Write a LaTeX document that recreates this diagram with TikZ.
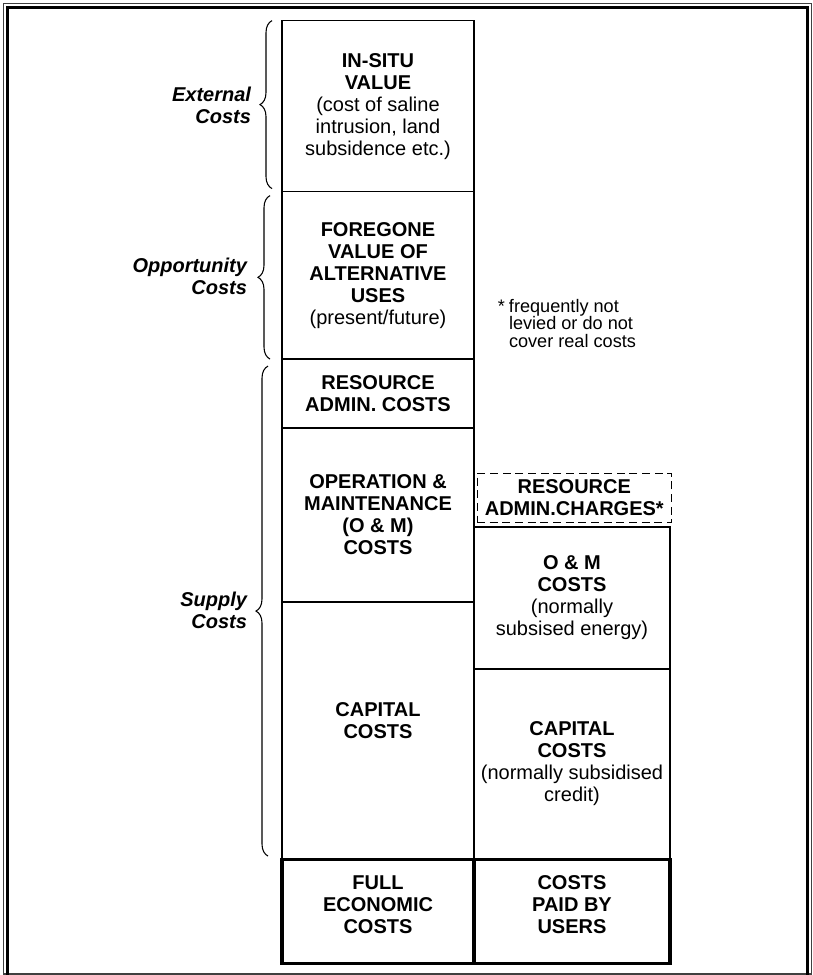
\documentclass[tikz,border=0pt]{standalone}
\usepackage{fontspec}
\setmainfont{Liberation Sans}
\usetikzlibrary{positioning,decorations.pathreplacing,calc}

\begin{document}
\begin{tikzpicture}[x=0.75pt,y=-0.75pt,
    every node/.style={font=\fontsize{15}{16.5}\selectfont,align=center,inner sep=0pt,outer sep=0pt},
    cell/.style={draw,line width=1.1pt,minimum width=144pt},
    rcell/.style={cell,minimum width=147pt},
    total/.style={draw,line width=2.3pt,minimum height=78pt},
    side/.style={font=\fontsize{15}{16.5}\selectfont\bfseries\itshape,align=right,anchor=east},
    curly/.style={decorate,decoration={brace,amplitude=9pt},line width=0.8pt},
    note/.style={font=\fontsize{13.6}{13.1}\selectfont,align=left,anchor=north west}
  ]
  \useasboundingbox (0,0) rectangle (813,975);
  % frame
  \draw[line width=0.9pt,black!75] (3.5,3.5) rectangle (811.5,974);
  \draw[line width=1.6pt] (7.5,975) -- (7.5,7.5) -- (807.5,7.5) -- (807.5,975);

  % full economic costs column
  \node[cell,minimum height=128.25pt] (insitu) at (378,106.1)
    {\textbf{IN-SITU}\\\textbf{VALUE}\\(cost of saline\\intrusion, land\\subsidence etc.)};
  \node[cell,minimum height=125.6pt,below=0pt of insitu] (foregone)
    {\textbf{FOREGONE}\\\textbf{VALUE OF}\\\textbf{ALTERNATIVE}\\\textbf{USES}\\(present/future)};
  \node[cell,minimum height=51.75pt,below=0pt of foregone] (resadmin)
    {\textbf{RESOURCE}\\\textbf{ADMIN. COSTS}};
  \node[cell,minimum height=130.5pt,below=0pt of resadmin] (omleft)
    {\textbf{OPERATION \&}\\\textbf{MAINTENANCE}\\\textbf{(O \& M)}\\\textbf{COSTS}};
  \node[cell,minimum height=192.75pt,below=0pt of omleft] (capleft)
    {\textbf{CAPITAL}\\\textbf{COSTS}\\[-1.5pt]};
  \node[total,minimum width=144pt,below=0pt of capleft] (fullcost)
    {\textbf{FULL}\\\textbf{ECONOMIC}\\\textbf{COSTS}\\[-6.5pt]};

  % costs paid by users column
  \node[total,minimum width=147pt,right=0pt of fullcost] (paidcost)
    {\textbf{COSTS}\\\textbf{PAID BY}\\\textbf{USERS}\\[-6.5pt]};
  \node[rcell,minimum height=142.5pt,above=0pt of paidcost] (capright)
    {\textbf{CAPITAL}\\\textbf{COSTS}\\(normally subsidised\\credit)};
  \node[rcell,minimum height=106.5pt,above=0pt of capright] (omright)
    {\textbf{O \& M}\\\textbf{COSTS}\\(normally\\subsised energy)};
  \node[draw,dashed,dash pattern=on 6pt off 3.5pt,line width=0.8pt,minimum width=145.9pt,minimum height=37.3pt] (adminchg) at (574.3,497.9)
    {\textbf{RESOURCE}\\\textbf{ADMIN.CHARGES*}};

  \node[note] (footnote) at (509,299)
    {\llap{*\hspace{3pt}}frequently not\\levied or do not\\cover real costs};

  % braces and their labels
  \draw[curly] ($(insitu.south west)+(-10,-3)$) -- ($(insitu.north west)+(-10,0)$);
  \draw[curly] ($(foregone.south west)+(-12,0)$) -- ($(foregone.north west)+(-12,4)$);
  \draw[curly] ($(capleft.south west)+(-14,-3)$) -- ($(resadmin.north west)+(-14,7)$);
  \node[side] (extlabel) at (251,105) {External\\Costs};
  \node[side] (opplabel) at (247,276) {Opportunity\\Costs};
  \node[side] (suplabel) at (247,610) {Supply\\Costs};
\end{tikzpicture}
\end{document}
